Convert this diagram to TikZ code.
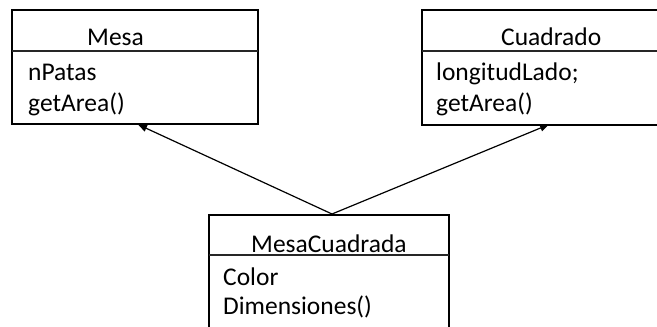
\documentclass[tikz,border=0pt]{standalone}
\usepackage{fontspec}
\setmainfont{Carlito}
\usetikzlibrary{arrows.meta}
\begin{document}
\begin{tikzpicture}[x=1pt,y=-1pt,
  umlbox/.style={draw=black, line width=2.6pt, inner sep=0pt, outer sep=0pt, anchor=north west},
  divider/.style={draw=black!85, line width=1.5pt},
  txt/.style={anchor=base west, inner sep=0pt, font=\fontsize{25.5}{30}\selectfont},
  inherit/.style={draw=black, line width=1.2pt, -{Triangle[length=9pt,width=7pt]}}]
\useasboundingbox (0,0) rectangle (657,327);
% boxes
\node[umlbox, minimum width=246pt, minimum height=114pt] (mesa) at (12,10) {};
\node[umlbox, minimum width=260pt, minimum height=115pt] (cuad) at (422,10) {};
\node[umlbox, minimum width=240pt, minimum height=140pt] (mc) at (209,215) {};
% dividers
\coordinate (mesaL) at (12,51); \coordinate (mesaR) at (258,51);
\coordinate (cuadL) at (422,51); \coordinate (cuadR) at (682,51);
\coordinate (mcL) at (209,255); \coordinate (mcR) at (449,255);
\draw[divider] (mesaL) -- (mesaR);
\draw[divider] (cuadL) -- (cuadR);
\draw[divider] (mcL) -- (mcR);
% texts
\node[txt] (t1) at (87,45) {Mesa};
\node[txt] (t2) at (28,80) {nPatas};
\node[txt] (t3) at (28,111) {getArea()};
\node[txt] (t4) at (501,45) {Cuadrado};
\node[txt] (t5) at (436,80) {longitudLado;};
\node[txt] (t6) at (436,111) {getArea()};
\node[txt] (t7) at (251,252) {MesaCuadrada};
\node[txt] (t8) at (223,285) {Color};
\node[txt] (t9) at (223,314) {Dimensiones()};
% connectors
\coordinate (join) at (332,214);
\coordinate (mesaTip) at (138,124.5);
\coordinate (cuadTip) at (549,124.5);
\draw[inherit] (join) -- (mesaTip);
\draw[inherit] (join) -- (cuadTip);
\end{tikzpicture}
\end{document}
